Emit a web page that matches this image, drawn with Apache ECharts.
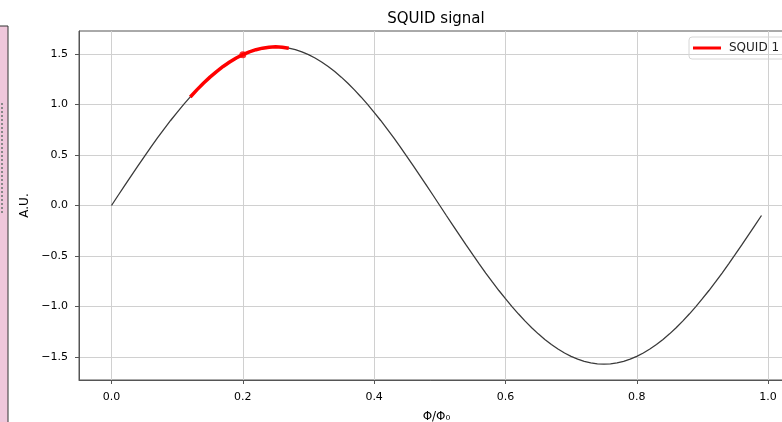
<!DOCTYPE html>
<html lang="en">
<head>
    <meta charset="UTF-8">
    <title>SQUID signal</title>
    <style>
        html, body {margin: 0; padding: 0; background: #fff;}
    </style>
</head>
<body>
<div id="main" style="width: 782px;height:422px;"></div>
</body>
<script src="https://cdn.jsdelivr.net/npm/echarts@6/dist/echarts.min.js"></script>
<script>

// flux values (Φ/Φ0), 0.00 .. 0.99 in steps of 0.01
const xs = [
    0.00, 0.01, 0.02, 0.03, 0.04, 0.05, 0.06, 0.07, 0.08, 0.09,
    0.10, 0.11, 0.12, 0.13, 0.14, 0.15, 0.16, 0.17, 0.18, 0.19,
    0.20, 0.21, 0.22, 0.23, 0.24, 0.25, 0.26, 0.27, 0.28, 0.29,
    0.30, 0.31, 0.32, 0.33, 0.34, 0.35, 0.36, 0.37, 0.38, 0.39,
    0.40, 0.41, 0.42, 0.43, 0.44, 0.45, 0.46, 0.47, 0.48, 0.49,
    0.50, 0.51, 0.52, 0.53, 0.54, 0.55, 0.56, 0.57, 0.58, 0.59,
    0.60, 0.61, 0.62, 0.63, 0.64, 0.65, 0.66, 0.67, 0.68, 0.69,
    0.70, 0.71, 0.72, 0.73, 0.74, 0.75, 0.76, 0.77, 0.78, 0.79,
    0.80, 0.81, 0.82, 0.83, 0.84, 0.85, 0.86, 0.87, 0.88, 0.89,
    0.90, 0.91, 0.92, 0.93, 0.94, 0.95, 0.96, 0.97, 0.98, 0.99]
// SQUID signal (A.U.)
const signal = [
    0, 0.099, 0.197, 0.294, 0.391, 0.485, 0.578, 0.669, 0.757, 0.842,
    0.923, 1.001, 1.075, 1.145, 1.210, 1.271, 1.326, 1.377, 1.421, 1.461,
    1.494, 1.522, 1.543, 1.558, 1.568, 1.571, 1.568, 1.558, 1.543, 1.522,
    1.494, 1.461, 1.421, 1.377, 1.326, 1.271, 1.210, 1.145, 1.075, 1.001,
    0.923, 0.842, 0.757, 0.669, 0.578, 0.485, 0.391, 0.294, 0.197, 0.099,
    0, -0.099, -0.197, -0.294, -0.391, -0.485, -0.578, -0.669, -0.757, -0.842,
    -0.923, -1.001, -1.075, -1.145, -1.210, -1.271, -1.326, -1.377, -1.421, -1.461,
    -1.494, -1.522, -1.543, -1.558, -1.568, -1.571, -1.568, -1.558, -1.543, -1.522,
    -1.494, -1.461, -1.421, -1.377, -1.326, -1.271, -1.210, -1.145, -1.075, -1.001,
    -0.923, -0.842, -0.757, -0.669, -0.578, -0.485, -0.391, -0.294, -0.197, -0.099]

// highlighted part (SQUID 1)
const squidX = [0.12, 0.13, 0.14, 0.15, 0.16, 0.17, 0.18, 0.19, 0.20, 0.21, 0.22, 0.23, 0.24, 0.25, 0.26, 0.27]
const squidY = [1.075, 1.145, 1.210, 1.271, 1.326, 1.377, 1.421, 1.461, 1.494, 1.522, 1.543, 1.558, 1.568, 1.571, 1.568, 1.558]

// working point
const pointX = [0.2]
const pointY = [1.494]

const xTicks = [0, 0.2, 0.4, 0.6, 0.8, 1.0]
const yTicks = [-1.5, -1.0, -0.5, 0, 0.5, 1.0, 1.5]

let chartDom = document.getElementById('main');
let myChart = echarts.init(chartDom);

const FONT = 'DejaVu Sans'
const zip = (a, b) => a.map((v, i) => [v, b[i]])
const near = (v, list) => list.some(t => Math.abs(t - v) < 1e-6)
const fmt = v => (v < 0 ? '\u2212' : '') + Math.abs(v).toFixed(1)

let option = {
    animation: false,
    title: {
        text: 'SQUID signal',
        left: 431,
        textAlign: 'center',
        top: 7,
        textStyle: {fontFamily: FONT, fontSize: 15, fontWeight: 'normal', color: '#000'}
    },
    legend: {
        data: ['SQUID 1'],
        left: 689,
        top: 37,
        orient: 'vertical',
        icon: 'rect',
        itemWidth: 28,
        itemHeight: 3,
        itemGap: 4,
        padding: [5, 6, 5, 4],
        borderColor: '#d6d6d6',
        borderWidth: 1,
        borderRadius: 3,
        textStyle: {fontFamily: FONT, fontSize: 12, color: '#222', padding: [0, 0, 0, 3]}
    },
    grid: {
        left: 79,
        top: 31,
        width: 715,
        height: 349,
        outerBoundsMode: 'none',
        show: true,
        borderColor: '#555',
        borderWidth: 1,
        backgroundColor: 'transparent'
    },
    xAxis: {
        type: 'value',
        min: -0.0495,
        max: 1.0395,
        splitNumber: 5,
        name: 'Φ/Φ₀',
        nameLocation: 'middle',
        nameGap: 31,
        nameTextStyle: {fontFamily: FONT, fontSize: 12, color: '#000'},
        axisLine: {onZero: false, lineStyle: {color: '#555'}},
        axisTick: {length: 4, customValues: xTicks, lineStyle: {color: '#555'}},
        axisLabel: {
            margin: 12,
            customValues: xTicks,
            fontFamily: FONT, fontSize: 11, color: '#000',
            formatter: v => near(v, xTicks) ? v.toFixed(1) : ''
        },
        splitLine: {lineStyle: {color: '#d0d0d0'}}
    },
    yAxis: {
        type: 'value',
        min: -1.728,
        max: 1.728,
        splitNumber: 7,
        name: 'A.U.',
        nameLocation: 'middle',
        nameGap: 46,
        nameTextStyle: {fontFamily: FONT, fontSize: 12, color: '#000'},
        axisLine: {show: true, onZero: false, lineStyle: {color: '#555'}},
        axisTick: {show: true, length: 4, customValues: yTicks, lineStyle: {color: '#555'}},
        axisLabel: {
            margin: 11,
            customValues: yTicks,
            fontFamily: FONT, fontSize: 11, color: '#000',
            formatter: v => near(v, yTicks) ? fmt(v) : ''
        },
        splitLine: {lineStyle: {color: '#d0d0d0'}}
    },
    graphic: [
        {
            type: 'rect',
            shape: {x: -2, y: 26, width: 10, height: 400},
            style: {fill: '#efc7db', stroke: '#333', lineWidth: 1}
        },
        {
            type: 'line',
            shape: {x1: 2, y1: 103, x2: 2, y2: 215},
            style: {stroke: '#888', lineWidth: 2, lineDash: [2, 2]}
        }
    ],
    series: [
        {
            name: 'signal',
            type: 'line',
            data: zip(xs, signal),
            showSymbol: false,
            lineStyle: {color: '#3a3a3a', width: 1.3},
            itemStyle: {color: '#3a3a3a'},
            z: 2
        },
        {
            name: 'SQUID 1',
            type: 'line',
            data: zip(squidX, squidY),
            showSymbol: false,
            lineStyle: {color: '#ff0000', width: 3.5},
            itemStyle: {color: '#ff0000'},
            z: 3
        },
        {
            name: 'point',
            type: 'scatter',
            data: zip(pointX, pointY),
            symbolSize: 7,
            itemStyle: {color: '#ff0000'},
            z: 4
        }
    ]
}

option && myChart.setOption(option);

</script>
</html>
